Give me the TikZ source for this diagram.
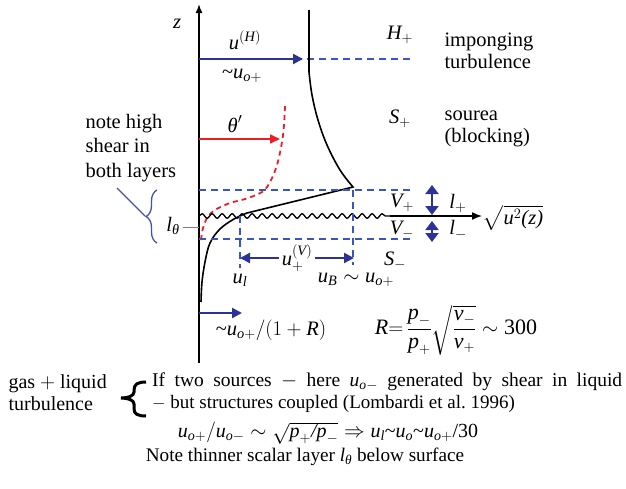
\documentclass[tikz,border=0pt]{standalone}
\usepackage{amsmath}
\usepackage{fontspec}
\setmainfont{Liberation Serif}
\usetikzlibrary{arrows.meta,decorations.pathmorphing,decorations.pathreplacing}
\definecolor{dblue}{RGB}{45,50,150}
\definecolor{lblue}{RGB}{55,85,195}
\definecolor{bblue}{RGB}{70,80,175}
\definecolor{myred}{RGB}{235,30,40}
\newcommand\mi[1]{\textit{#1}}
\begin{document}
\begin{tikzpicture}[x=1pt,y=-1pt,
  font=\fontsize{20.5}{22}\selectfont,
  dashb/.style={lblue, line width=1.8pt, dash pattern=on 7pt off 5pt},
  darr/.style={dblue, line width=2.2pt, -{Triangle[length=10pt,width=10pt]}},
  prof/.style={black, line width=1.6pt},
  redd/.style={myred, line width=1.8pt, dash pattern=on 5pt off 4pt},
  txt/.style={anchor=west, align=left},
  bot/.style={font=\fontsize{20}{22}\selectfont}]
\useasboundingbox (0,0) rectangle (626,488);
% axis
\coordinate (axb) at (199,363);
\coordinate (axt) at (199,4);
\draw[line width=1.5pt,-{Latex[length=9pt,width=7pt]}] (axb) -- (axt);
\node (z) at (177,24) {\mi{z}};
% H+ level
\coordinate (h0) at (199,59); \coordinate (h1) at (412,59); \coordinate (hp) at (303,59);
\draw[dashb] (h0) -- (h1);
\draw[darr] (h0) -- (hp);
\node (uH) at (245,40) {$\mi{u}^{(\mi{H})}$};
\node (uo) at (242,76) {\textasciitilde$\mi{u}_{\mi{o}+}$};
% velocity profile
\draw[prof] (309,10) -- plot[smooth,tension=0.6] coordinates {(309,72) (312,95) (318,120) (327,145) (340,170) (353,187)}
  -- plot[smooth,tension=0.6] coordinates {(247,213) (234,219) (220,229) (210,243) (205,262) (202,282) (201,302)};
% scalar profile
\draw[redd] plot[smooth,tension=0.6] coordinates {(285,106) (284,125) (282,142) (277,165) (270,182) (262,192) (245,199) (230,203) (215,210) (207,218) (203,228) (201,240)};
\coordinate (t0) at (199,139); \coordinate (t1) at (280,139);
\draw[myred, line width=1.6pt, -{Triangle[length=10pt,width=9pt]}] (t0) -- (t1);
\node (th) at (235,124) {$\mi{θ}'$};
% layer limits
\coordinate (a0) at (199,190); \coordinate (a1) at (412,190);
\coordinate (b0) at (199,239); \coordinate (b1) at (412,239);
\draw[dashb] (a0) -- (a1);
\draw[dashb] (b0) -- (b1);
% interface
\coordinate (w0) at (199,216); \coordinate (w1) at (390,216); \coordinate (w2) at (482,216);
\draw[line width=1.3pt, decorate, decoration={snake, segment length=10pt, amplitude=2.3pt}] (w0) -- (w1);
\draw[line width=1.5pt, -{Latex[length=10pt,width=8pt]}] (w1) -- (w2);
% verticals
\coordinate (v0) at (240,216); \coordinate (v1) at (240,268);
\coordinate (v2) at (353,190); \coordinate (v3) at (353,265);
\draw[dashb] (v0) -- (v1);
\draw[dashb] (v2) -- (v3);
\node[fill=white, inner sep=3pt] (uV) at (297,258) {$\mi{u}_+^{(\mi{V})}$};
\coordinate (ua) at (240,258); \coordinate (ub) at (354,258);
\draw[darr] (uV) -- (ua);
\draw[darr] (uV) -- (ub);
\node (ul) at (240,280) {$\mi{u}_{\mi{l}}$};
\node (uB) at (356,280) {$\mi{u}_{\mi{B}}\sim\mi{u}_{\mi{o}+}$};
% right labels
\node (Hp) at (400,35) {$\mi{H}_+$};
\node[txt] (imp) at (441,51) {imponging\\turbulence};
\node (Sp) at (400,119) {$\mi{S}_+$};
\node[txt] (sou) at (441,129) {sourea\\(blocking)};
\node (Vp) at (402,203) {$\mi{V}_+$};
\node (Vm) at (402,230) {$\mi{V}_-$};
\node (lp) at (458,203) {$\mi{l}_+$};
\node (lm) at (458,230) {$\mi{l}_-$};
\node (Sm) at (395,261) {$\mi{S}_-$};
\node (rms) at (513,218) {$\sqrt{\mi{u}^2\mi{(z)}}$};
\coordinate (d1) at (432,185); \coordinate (d2) at (432,215);
\coordinate (d3) at (432,221); \coordinate (d4) at (432,242);
\draw[dblue, line width=2.5pt, {Triangle[length=9pt,width=13pt]}-{Triangle[length=9pt,width=13pt]}] (d1) -- (d2);
\draw[dblue, line width=2.5pt, {Triangle[length=9pt,width=13pt]}-{Triangle[length=9pt,width=13pt]}] (d3) -- (d4);
% left note
\node[txt, font=\fontsize{20.5}{24.5}\selectfont] (note) at (82,148) {note high\\shear in\\both layers};
\coordinate (br0) at (157,243); \coordinate (br1) at (157,190);
\draw[bblue, line width=1.3pt, decorate, decoration={brace, amplitude=11pt}] (br0) -- (br1);
\coordinate (nl) at (117,188); \coordinate (bt) at (145,216);
\draw[bblue, line width=1.3pt] (nl) -- (bt);
\node (lth) at (173,226) {$\mi{l}_{\mi{θ}}$};
\coordinate (g0) at (183,227); \coordinate (g1) at (199,227);
\draw[gray, line width=1pt] (g0) -- (g1);
% bottom of plot
\coordinate (e0) at (199,313); \coordinate (e1) at (242,313);
\draw[darr] (e0) -- (e1);
\node (ue) at (271,330) {\textasciitilde$\mi{u}_{\mi{o}+}/(1+\mi{R})$};
\node[font=\fontsize{22}{24}\selectfont] (R) at (456,330) {$\mi{R}{=}\,\dfrac{\mi{p}_-}{\mi{p}_+}\sqrt{\dfrac{\mi{v}_-}{\mi{v}_+}}\sim\mbox{300}$};
% bottom text
\node[txt, bot] (gas) at (5,393) {gas $+$ liquid\\turbulence};
\draw[line width=3pt] (146,382) .. controls (138,382) and (134,384) .. (134,390) -- (134,392)
  .. controls (134,396) and (128,398) .. (121,398) .. controls (128,398) and (134,400) .. (134,404)
  -- (134,409) .. controls (134,414) and (138,416) .. (146,416);
\node[txt, inner sep=0pt] (src) at (152,393) {{\fontsize{19.5}{22}\selectfont\makebox[470pt][s]{If two sources $-$ here $\mi{u}_{\mi{o}-}$ generated by shear in liquid}}\\{\fontsize{19}{22}\selectfont $-$ but structures coupled (Lombardi et al.\ 1996)}};
\node[bot, inner sep=0pt] (form) at (328,433) {$\mi{u}_{\mi{o}+}/\mi{u}_{\mi{o}-}\sim\sqrt{\vphantom{\mi{p}}\smash{\mi{p}_+\mi{/}\mi{p}_-}}\Rightarrow\mi{u}_{\mi{l}}$\textasciitilde$\mi{u}_{\mi{o}}$\textasciitilde$\mi{u}_{\mi{o}+}$/30};
\node[font=\fontsize{19.2}{22}\selectfont] (nt) at (305,457) {Note thinner scalar layer $\mi{l}_{\mi{θ}}$ below surface};
\end{tikzpicture}
\end{document}
